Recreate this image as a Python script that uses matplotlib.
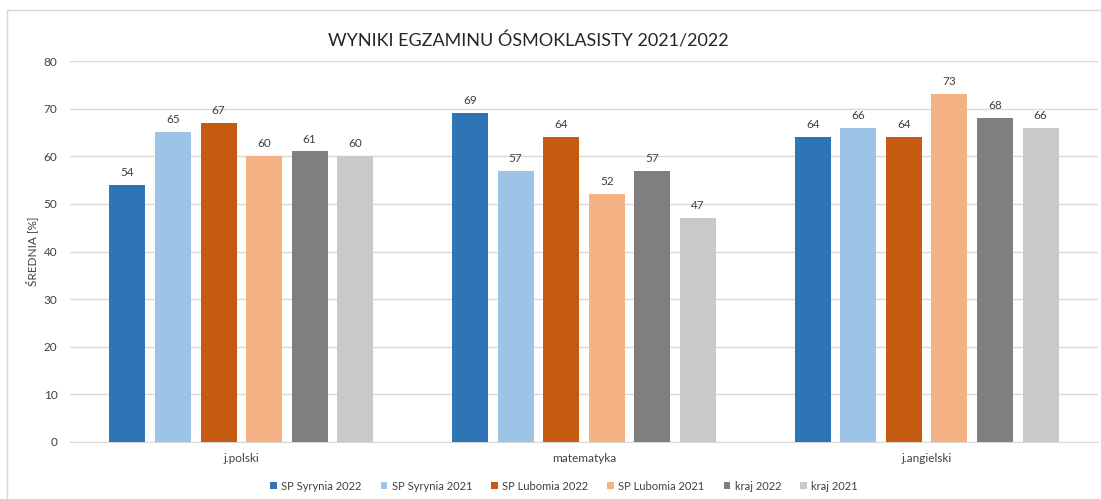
import matplotlib
matplotlib.use("Agg")
import matplotlib.pyplot as plt
import numpy as np
from matplotlib.lines import Line2D

categories = ["j.polski", "matematyka", "j.angielski"]
series_names = ["SP Syrynia 2022", "SP Syrynia 2021", "SP Lubomia 2022",
                "SP Lubomia 2021", "kraj 2022", "kraj 2021"]
syrynia_2022 = [54, 69, 64]
syrynia_2021 = [65, 57, 66]
lubomia_2022 = [67, 64, 64]
lubomia_2021 = [60, 52, 73]
kraj_2022 = [61, 57, 68]
kraj_2021 = [60, 47, 66]
series_values = [syrynia_2022, syrynia_2021, lubomia_2022, lubomia_2021, kraj_2022, kraj_2021]
colors = ["#2E75B6", "#9DC3E6", "#C55A11", "#F4B183", "#7F7F7F", "#C9C9C9"]

plt.rcParams['font.family'] = ['Lato', 'DejaVu Sans']

fig = plt.figure(figsize=(11.01, 4.99), dpi=100)
ax = fig.add_axes([70/1101, 1-442/499, (1098-70)/1101, (442-61)/499])

x = np.arange(len(categories))
step = 0.133
width = 0.105
for i, (name, vals, c) in enumerate(zip(series_names, series_values, colors)):
    pos = x + (i - 2.5) * step
    bars = ax.bar(pos, vals, width=width, color=c, label=name, zorder=3)
    for b, v in zip(bars, vals):
        ax.annotate(str(v), (b.get_x() + b.get_width()/2, v), xytext=(0, 5),
                    textcoords="offset points", ha="center", va="bottom",
                    fontsize=8.5, color="#404040")

ax.set_xlim(-0.5, 2.5)
ax.set_ylim(0, 80)
ax.set_yticks(range(0, 81, 10))
ax.set_xticks(x)
ax.set_xticklabels(categories)
ax.yaxis.grid(True, color="#D9D9D9", linewidth=1, zorder=0)
for s in ["top", "right", "left"]:
    ax.spines[s].set_visible(False)
ax.spines["bottom"].set_color("#D9D9D9")
ax.tick_params(axis="both", length=0, labelsize=8.5, labelcolor="#404040")
ax.tick_params(axis="y", pad=9)
ax.tick_params(axis="x", pad=8)
ax.set_ylabel("ŚREDNIA [%]", fontsize=8.5, color="#404040", labelpad=4)

fig.text(528/1101, 1-41/499, "WYNIKI EGZAMINU ÓSMOKLASISTY 2021/2022",
         ha="center", va="center", fontsize=13, color="#262626")

leg = ax.legend(loc="center", bbox_to_anchor=(564/1101, 1-486/499), bbox_transform=fig.transFigure,
                ncol=6, frameon=False, fontsize=8, handlelength=0.6, handleheight=0.6,
                handletextpad=0.4, columnspacing=1.7)
for t in leg.get_texts():
    t.set_color("#404040")

# outer chart border (top and left visible)
fig.add_artist(Line2D([7/1101, 1], [1-10/499, 1-10/499], color="#D9D9D9", linewidth=1, transform=fig.transFigure))
fig.add_artist(Line2D([7/1101, 7/1101], [0, 1-10/499], color="#D9D9D9", linewidth=1, transform=fig.transFigure))

fig.savefig("out.png", dpi=100)
